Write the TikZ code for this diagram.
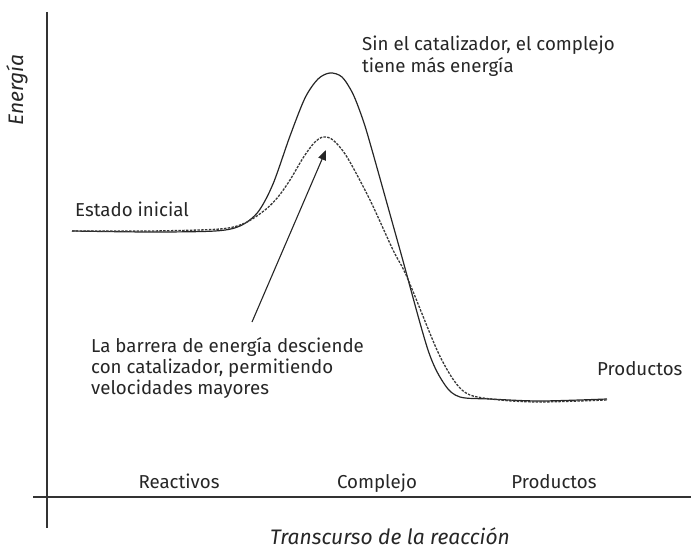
\documentclass[tikz,border=0pt]{standalone}
\usepackage{fontspec}
\setmainfont{Fira Sans}
\usetikzlibrary{arrows.meta}
\begin{document}
\begin{tikzpicture}[x=1pt,y=-1pt,
  axis/.style={line width=2pt,draw=black!80},
  lbl/.style={font=\fontsize{18.7}{21.5}\selectfont,text=black!85,inner sep=0pt,align=left},
  axlbl/.style={font=\fontsize{21}{24}\selectfont\itshape,text=black!85,inner sep=0pt},
  curve/.style={line width=1.2pt,black!85},
  dcurve/.style={line width=1.3pt,black!78,dash pattern=on 2.5pt off 1.3pt}]
\useasboundingbox (0,0) rectangle (691,551);
% axes
\coordinate (ytop) at (47,12);
\coordinate (ybot) at (47,528);
\coordinate (xl) at (33,497);
\coordinate (xr) at (691,497);
\draw[axis] (ytop) -- (ybot);
\draw[axis] (xl) -- (xr);
% curves
\draw[curve] plot[smooth,tension=0.5] coordinates {(72,231) (150,232) (215,231) (240,226) (258,212) (273,184) (290,136) (305,98) (318,79) (330,73) (342,77) (353,94) (363,120) (372,150) (400,250) (428,350) (445,385) (460,397) (490,399) (540,401) (607,399)};
\draw[dcurve] plot[smooth,tension=0.5] coordinates {(72,231) (150,231) (220,229) (245,223) (265,210) (278,197) (290,180) (303,158) (314,143) (323,137) (333,140) (347,157) (370,200) (393,250) (407,277) (437,350) (455,382) (470,395) (500,400) (540,402) (607,400)};
% arrow
\coordinate (atail) at (252,322);
\coordinate (ahead) at (326,150);
\draw[line width=1.1pt,black!85,-{Triangle[length=10pt,width=8pt]}] (atail) -- (ahead);
% labels
\node[axlbl,rotate=90] (energia) at (17,90) {Energía};
\node[lbl,anchor=base west] (sin1) at (362,51) {Sin el catalizador, el complejo};
\node[lbl,anchor=base west] (sin2) at (362,73) {tiene más energía};
\node[lbl,anchor=base west] (estado) at (75,216) {Estado inicial};
\node[lbl,anchor=base west] (bar1) at (91,352) {La barrera de energía desciende};
\node[lbl,anchor=base west] (bar2) at (91,373) {con catalizador, permitiendo};
\node[lbl,anchor=base west] (bar3) at (91,394) {velocidades mayores};
\node[lbl,anchor=base west] (prod1) at (597,375) {Productos};
\node[lbl,anchor=base] (reac) at (179,488) {Reactivos};
\node[lbl,anchor=base] (compl) at (377,488) {Complejo};
\node[lbl,anchor=base] (prod2) at (554,488) {Productos};
\node[axlbl,anchor=base west] (trans) at (270,544) {Transcurso de la reacción};
\end{tikzpicture}
\end{document}
